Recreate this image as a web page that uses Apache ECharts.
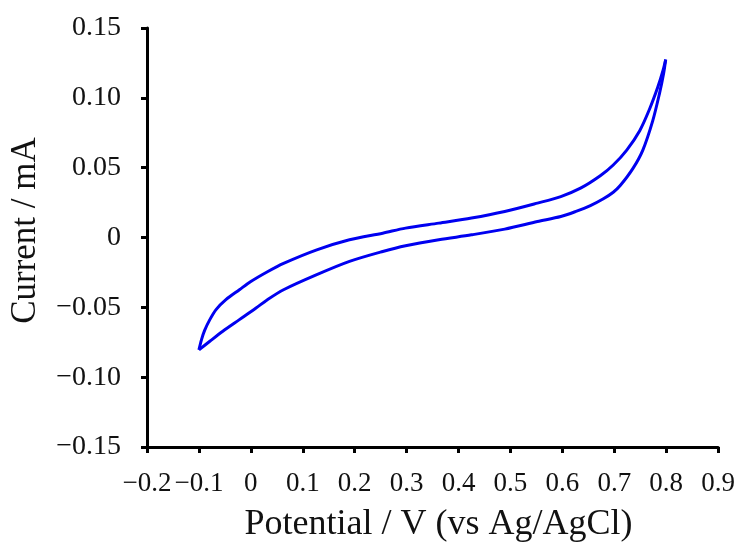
<!DOCTYPE html>
<html>
<head>
<meta charset="utf-8">
<script src="https://cdn.jsdelivr.net/npm/echarts@6/dist/echarts.min.js"></script>
<style>html,body{margin:0;padding:0;background:#fff;}#c{width:738px;height:548px;}</style>
</head>
<body>
<div id="c"></div>
<script>
// Upper branch (from -0.1 V vertex to 0.8 V vertex)
var upperX = [-0.1, -0.095, -0.089, -0.079, -0.067, -0.048, -0.022, 0.0, 0.032, 0.063, 0.127, 0.19, 0.254, 0.298, 0.362, 0.425, 0.489, 0.552, 0.597, 0.635, 0.673, 0.698, 0.724, 0.749, 0.768, 0.784, 0.794, 0.799];
var upperY = [-0.0805, -0.0731, -0.0665, -0.0588, -0.0516, -0.0445, -0.0374, -0.0315, -0.0245, -0.0185, -0.0088, -0.0016, 0.0031, 0.0067, 0.0103, 0.0139, 0.0186, 0.0246, 0.0293, 0.0353, 0.0442, 0.0519, 0.0626, 0.0765, 0.0920, 0.1079, 0.1198, 0.1274];
// Lower branch
var lowerX = [-0.1, -0.079, -0.054, -0.022, 0.01, 0.032, 0.063, 0.127, 0.19, 0.254, 0.298, 0.362, 0.425, 0.489, 0.552, 0.597, 0.625, 0.654, 0.679, 0.698, 0.711, 0.736, 0.755, 0.774, 0.787, 0.795, 0.799];
var lowerY = [-0.0805, -0.0743, -0.0671, -0.0588, -0.0505, -0.0445, -0.0374, -0.0266, -0.0171, -0.010, -0.0059, -0.0016, 0.0019, 0.006, 0.0114, 0.015, 0.0185, 0.0228, 0.0277, 0.0324, 0.037, 0.0495, 0.0626, 0.0835, 0.1030, 0.1174, 0.1274];

var xTitle = 'Potential / V (vs Ag/AgCl)';
var yTitle = 'Current / mA';

function pairs(xs, ys) { return xs.map(function (x, i) { return [x, ys[i]]; }); }
function fmt(v, d) {
  var r = Math.round(v * 1000) / 1000;
  if (Math.abs(r) < 1e-9) return '0';
  return r.toFixed(d).replace('-', '\u2212');
}

var font = 'Liberation Serif';
var chart = echarts.init(document.getElementById('c'), null, { renderer: 'canvas' });
chart.setOption({
  animation: false,
  backgroundColor: '#fff',
  grid: { left: 141.7, right: 19, top: 28, bottom: 100.3, containLabel: false },
  xAxis: {
    type: 'value', min: -0.2, max: 0.9, interval: 0.1,
    name: xTitle, nameLocation: 'middle', nameGap: 60,
    nameTextStyle: { fontFamily: font, fontSize: 36, color: '#111', padding: [0, 0, 0, 12] },
    axisLine: { onZero: false, lineStyle: { color: '#000', width: 3 } },
    axisTick: { show: true, inside: false, length: 6, lineStyle: { color: '#000', width: 3 } },
    axisLabel: { margin: 23, fontFamily: font, fontSize: 27, color: '#111', showMinLabel: true, showMaxLabel: true,
      formatter: function (v) { return fmt(v, 1); } },
    splitLine: { show: false }
  },
  yAxis: {
    type: 'value', min: -0.15, max: 0.15, interval: 0.05,
    name: yTitle, nameLocation: 'middle', nameGap: 104,
    nameTextStyle: { fontFamily: font, fontSize: 35, color: '#111', padding: [0, 0, 0, 14] },
    axisLine: { onZero: false, lineStyle: { color: '#000', width: 3 } },
    axisTick: { show: true, inside: false, length: 6, lineStyle: { color: '#000', width: 3 } },
    axisLabel: { margin: 26, fontFamily: font, fontSize: 28, color: '#111', showMinLabel: true, showMaxLabel: true,
      formatter: function (v) { return fmt(v, 2); } },
    splitLine: { show: false }
  },
  series: [
    { type: 'line', data: pairs(upperX, upperY), smooth: 0.3, showSymbol: false, symbol: 'none',
      lineStyle: { color: '#0000f0', width: 3 } },
    { type: 'line', data: pairs(lowerX, lowerY), smooth: 0.3, showSymbol: false, symbol: 'none',
      lineStyle: { color: '#0000f0', width: 3 } }
  ]
});
</script>
</body>
</html>
